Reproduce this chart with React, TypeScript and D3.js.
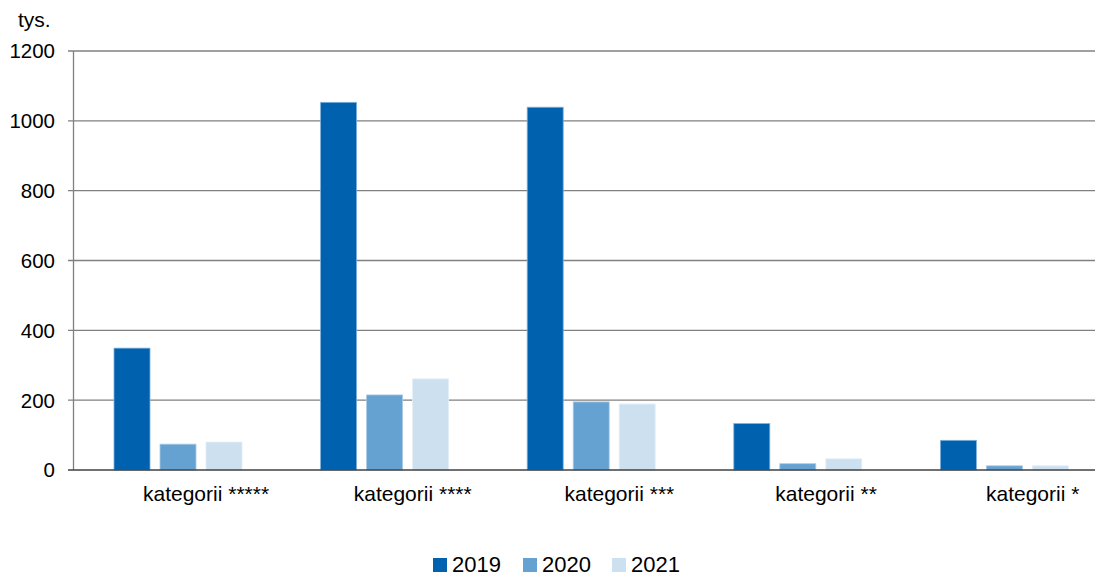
import React from "react";
import * as d3 from "d3";

const categories = ["kategorii *****", "kategorii ****", "kategorii ***", "kategorii **", "kategorii *"];
const seriesNames = ["2019", "2020", "2021"];
const values2019 = [349, 1053, 1039, 133, 85];
const values2020 = [74, 215, 195, 18, 12];
const values2021 = [80, 261, 189, 32, 12];
const yTicks = [0, 200, 400, 600, 800, 1000, 1200];
const colors = ["#0062ae", "#66a2d1", "#cde0f0"];
const strokes = ["#7fb0dc", "#a9cbe7", "#e3eef8"];

const W = 1095;
const H = 577;
const FONT = "'Liberation Sans', Arial, sans-serif";

export default function App() {
  const series = [values2019, values2020, values2021];
  const y = d3.scaleLinear().domain([0, 1200]).range([470, 51]);
  const x = d3.scaleBand<string>().domain(categories).range([73, 73 + 5 * 206.6]).padding(0);
  const inner = d3.scaleBand<string>().domain(seriesNames).range([41, 169]).paddingInner(10 / 46).paddingOuter(0);
  const labelX = d3.scaleLinear().domain([0, categories.length - 1]).range([143, 986]);
  const legendX = [433, 523, 612];

  return (
    <svg width={W} height={H} style={{ position: "absolute", left: 0, top: 0, background: "#fff" }} fontFamily={FONT}>
      <rect x={0} y={0} width={W} height={H} fill="#fff" />
      {yTicks.map((t) => (
        <g key={t}>
          {t !== 0 && <line x1={68} x2={W} y1={y(t)} y2={y(t)} stroke="#808080" strokeWidth={1.3} />}
          <text x={55} y={y(t)} dy="0.36em" textAnchor="end" fontSize={20.5} fill="#000">{t}</text>
        </g>
      ))}
      <line x1={73.5} x2={73.5} y1={y(1200)} y2={y(0)} stroke="#808080" strokeWidth={1.3} />
      <text x={18} y={27} fontSize={21} fill="#000">tys.</text>
      {categories.map((c, i) => (
        <g key={c}>
          {series.map((vals, s) => {
            const bx = (x(c) as number) + (inner(seriesNames[s]) as number);
            return (
              <rect
                key={s}
                x={bx}
                y={y(vals[i])}
                width={inner.bandwidth()}
                height={y(0) - y(vals[i])}
                fill={colors[s]}
                stroke={strokes[s]}
                strokeWidth={0.8}
              />
            );
          })}
          <text x={labelX(i)} y={501} fontSize={21} fill="#000">{c}</text>
        </g>
      ))}
      <line x1={68} x2={W} y1={y(0)} y2={y(0)} stroke="#404040" strokeWidth={1.5} />
      {seriesNames.map((s, i) => (
        <g key={s}>
          <rect x={legendX[i]} y={558} width={14} height={14} fill={colors[i]} />
          <text x={legendX[i] + 19} y={572} fontSize={22} fill="#000">{s}</text>
        </g>
      ))}
    </svg>
  );
}
